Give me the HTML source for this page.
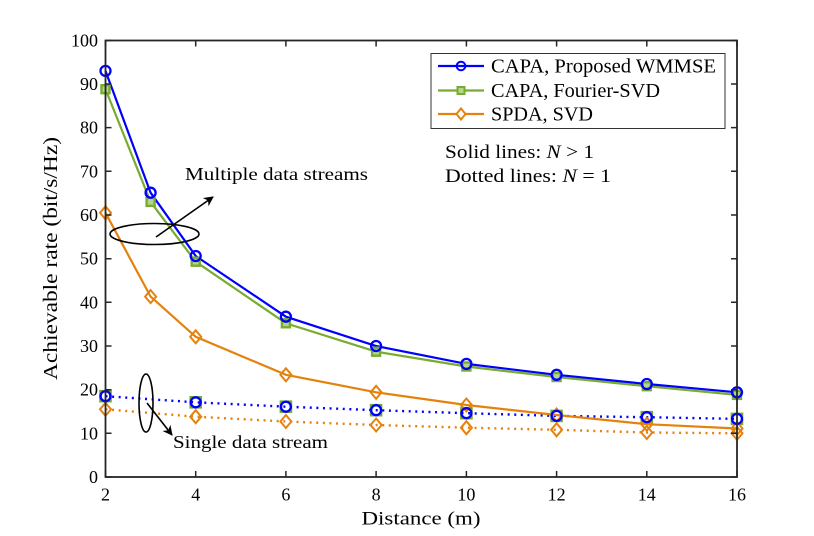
<!DOCTYPE html>
<html><head><meta charset="utf-8"><style>
html,body{margin:0;padding:0;background:#fff;}
svg{display:block;}
text{font-family:"Liberation Serif","DejaVu Serif",serif;fill:#000;}
</style></head><body>
<svg width="814" height="536" viewBox="0 0 814 536" xmlns="http://www.w3.org/2000/svg">
<defs>
<marker id="ah" markerWidth="10" markerHeight="10" refX="9" refY="5" orient="auto" markerUnits="userSpaceOnUse">
<path d="M0,0 L10,5 L0,10 L3,5 Z" fill="#000"/>
</marker>
</defs>
<rect width="814" height="536" fill="#fff"/>

<!-- dotted-series green squares (behind lines) -->
<g fill="#fff" stroke="#77ac30" stroke-width="2.6">
<rect x="100.5" y="391.2" width="10" height="10"/>
<rect x="190.7" y="397.3" width="10" height="10"/>
<rect x="280.9" y="401.7" width="10" height="10"/>
<rect x="371.1" y="405.2" width="10" height="10"/>
<rect x="461.4" y="408.2" width="10" height="10"/>
<rect x="551.6" y="410.9" width="10" height="10"/>
<rect x="641.8" y="412.2" width="10" height="10"/>
<rect x="732" y="413.9" width="10" height="10"/>
</g>

<!-- series: dotted -->
<polyline fill="none" stroke="#e5820e" stroke-width="2.4" stroke-dasharray="2 4.6" points="105.5,409.3 195.7,416.7 285.9,421.5 376.1,425.0 466.4,427.7 556.6,429.8 646.8,432.5 737,433.3"/>
<polyline fill="none" stroke="#0000ff" stroke-width="2.4" stroke-dasharray="2 4.6" points="105.5,396.2 195.7,402.3 285.9,406.7 376.1,410.2 466.4,413.2 556.6,415.9 646.8,417.2 737,418.9"/>

<!-- series: solid -->
<polyline fill="none" stroke="#e5820e" stroke-width="2.2" points="105.5,212.8 150.6,296.6 195.7,336.8 285.9,374.8 376.1,392.3 466.4,405.0 556.6,415.0 646.8,424.2 737,428.5"/>
<polyline fill="none" stroke="#77ac30" stroke-width="2.2" points="105.5,89.2 150.6,201.9 195.7,261.7 285.9,323.3 376.1,351.7 466.4,366.5 556.6,377.0 646.8,386.2 737,394.9"/>
<polyline fill="none" stroke="#0000ff" stroke-width="2.2" points="105.5,70.9 150.6,192.7 195.7,256.0 285.9,316.7 376.1,346.0 466.4,363.9 556.6,374.8 646.8,384.0 737,392.3"/>

<!-- markers orange diamonds -->
<g fill="none" stroke="#e5820e" stroke-width="2">
<path d="M105.5,206.3 l5.5,6.5 l-5.5,6.5 l-5.5,-6.5 z"/>
<path d="M150.6,290.1 l5.5,6.5 l-5.5,6.5 l-5.5,-6.5 z"/>
<path d="M195.7,330.3 l5.5,6.5 l-5.5,6.5 l-5.5,-6.5 z"/>
<path d="M285.9,368.3 l5.5,6.5 l-5.5,6.5 l-5.5,-6.5 z"/>
<path d="M376.1,385.8 l5.5,6.5 l-5.5,6.5 l-5.5,-6.5 z"/>
<path d="M466.4,398.5 l5.5,6.5 l-5.5,6.5 l-5.5,-6.5 z"/>
<path d="M556.6,408.5 l5.5,6.5 l-5.5,6.5 l-5.5,-6.5 z"/>
<path d="M646.8,417.7 l5.5,6.5 l-5.5,6.5 l-5.5,-6.5 z"/>
<path d="M737,422.0 l5.5,6.5 l-5.5,6.5 l-5.5,-6.5 z"/>
<path d="M105.5,402.8 l5.5,6.5 l-5.5,6.5 l-5.5,-6.5 z"/>
<path d="M195.7,410.2 l5.5,6.5 l-5.5,6.5 l-5.5,-6.5 z"/>
<path d="M285.9,415.0 l5.5,6.5 l-5.5,6.5 l-5.5,-6.5 z"/>
<path d="M376.1,418.5 l5.5,6.5 l-5.5,6.5 l-5.5,-6.5 z"/>
<path d="M466.4,421.2 l5.5,6.5 l-5.5,6.5 l-5.5,-6.5 z"/>
<path d="M556.6,423.3 l5.5,6.5 l-5.5,6.5 l-5.5,-6.5 z"/>
<path d="M646.8,426.0 l5.5,6.5 l-5.5,6.5 l-5.5,-6.5 z"/>
<path d="M737,426.8 l5.5,6.5 l-5.5,6.5 l-5.5,-6.5 z"/>
</g>

<!-- markers green squares (solid series) -->
<g fill="#b7d58e" stroke="#77ac30" stroke-width="2.4">
<rect x="101.5" y="85.2" width="8" height="8"/>
<rect x="146.6" y="197.9" width="8" height="8"/>
<rect x="191.7" y="257.7" width="8" height="8"/>
<rect x="281.9" y="319.3" width="8" height="8"/>
<rect x="372.1" y="347.7" width="8" height="8"/>
<rect x="462.4" y="362.5" width="8" height="8"/>
<rect x="552.6" y="373.0" width="8" height="8"/>
<rect x="642.8" y="382.2" width="8" height="8"/>
<rect x="733" y="390.9" width="8" height="8"/>
</g>

<!-- markers blue circles -->
<g fill="none" stroke="#0000ff" stroke-width="2.3">
<circle cx="105.5" cy="70.9" r="5"/>
<circle cx="150.6" cy="192.7" r="5"/>
<circle cx="195.7" cy="256.0" r="5"/>
<circle cx="285.9" cy="316.7" r="5"/>
<circle cx="376.1" cy="346.0" r="5"/>
<circle cx="466.4" cy="363.9" r="5"/>
<circle cx="556.6" cy="374.8" r="5"/>
<circle cx="646.8" cy="384.0" r="5"/>
<circle cx="737" cy="392.3" r="5"/>
<circle cx="105.5" cy="396.2" r="5"/>
<circle cx="195.7" cy="402.3" r="5"/>
<circle cx="285.9" cy="406.7" r="5"/>
<circle cx="376.1" cy="410.2" r="5"/>
<circle cx="466.4" cy="413.2" r="5"/>
<circle cx="556.6" cy="415.9" r="5"/>
<circle cx="646.8" cy="417.2" r="5"/>
<circle cx="737" cy="418.9" r="5"/>
</g>

<!-- axes box -->
<rect x="105.5" y="40.5" width="631.5" height="436.5" fill="none" stroke="#262626" stroke-width="1.8"/>
<g stroke="#262626" stroke-width="1.5">
<path d="M105.5,477v-6M195.7,477v-6M285.9,477v-6M376.1,477v-6M466.4,477v-6M556.6,477v-6M646.8,477v-6M737,477v-6"/>
<path d="M105.5,40.5v6M195.7,40.5v6M285.9,40.5v6M376.1,40.5v6M466.4,40.5v6M556.6,40.5v6M646.8,40.5v6M737,40.5v6"/>
<path d="M105.5,477h6M105.5,433.3h6M105.5,389.7h6M105.5,346h6M105.5,302.3h6M105.5,258.7h6M105.5,215h6M105.5,171.3h6M105.5,127.6h6M105.5,84h6M105.5,40.5h6"/>
<path d="M737,477h-6M737,433.3h-6M737,389.7h-6M737,346h-6M737,302.3h-6M737,258.7h-6M737,215h-6M737,171.3h-6M737,127.6h-6M737,84h-6M737,40.5h-6"/>
</g>

<!-- y tick labels -->
<g font-size="18" text-anchor="end">
<text x="98" y="483">0</text>
<text x="98" y="439.3">10</text>
<text x="98" y="395.7">20</text>
<text x="98" y="352">30</text>
<text x="98" y="308.3">40</text>
<text x="98" y="264.7">50</text>
<text x="98" y="221">60</text>
<text x="98" y="177.3">70</text>
<text x="98" y="133.6">80</text>
<text x="98" y="90">90</text>
<text x="98" y="46.5">100</text>
</g>
<!-- x tick labels -->
<g font-size="18" text-anchor="middle">
<text x="105.5" y="500.5">2</text>
<text x="195.7" y="500.5">4</text>
<text x="285.9" y="500.5">6</text>
<text x="376.1" y="500.5">8</text>
<text x="466.4" y="500.5">10</text>
<text x="556.6" y="500.5">12</text>
<text x="646.8" y="500.5">14</text>
<text x="737" y="500.5">16</text>
</g>

<text x="421" y="524.5" font-size="19" text-anchor="middle" textLength="119" lengthAdjust="spacingAndGlyphs">Distance (m)</text>
<text transform="translate(57,258.5) rotate(-90)" font-size="20" text-anchor="middle" textLength="243" lengthAdjust="spacingAndGlyphs">Achievable rate (bit/s/Hz)</text>

<!-- legend -->
<rect x="431" y="53.5" width="294" height="75" fill="#fff" stroke="#333" stroke-width="1"/>
<line x1="438" y1="66" x2="484" y2="66" stroke="#0000ff" stroke-width="2.2"/>
<circle cx="461" cy="66" r="4.3" fill="none" stroke="#0000ff" stroke-width="2"/>
<line x1="438" y1="90.5" x2="484" y2="90.5" stroke="#77ac30" stroke-width="2.2"/>
<rect x="457.5" y="87" width="7" height="7" fill="#b7d58e" stroke="#77ac30" stroke-width="2"/>
<line x1="438" y1="114" x2="484" y2="114" stroke="#e5820e" stroke-width="2.2"/>
<path d="M461,108.5 l4.5,5.5 l-4.5,5.5 l-4.5,-5.5 z" fill="#fff" stroke="#e5820e" stroke-width="2"/>
<g font-size="20">
<text x="491" y="72.5" textLength="225" lengthAdjust="spacingAndGlyphs">CAPA, Proposed WMMSE</text>
<text x="491" y="97" textLength="169" lengthAdjust="spacingAndGlyphs">CAPA, Fourier-SVD</text>
<text x="491" y="120.5" textLength="102" lengthAdjust="spacingAndGlyphs">SPDA, SVD</text>
</g>

<!-- annotations -->
<g font-size="19">
<text x="445" y="158" textLength="149" lengthAdjust="spacingAndGlyphs">Solid lines: <tspan font-style="italic">N</tspan> &gt; 1</text>
<text x="445" y="182" textLength="166" lengthAdjust="spacingAndGlyphs">Dotted lines: <tspan font-style="italic">N</tspan> = 1</text>
</g>
<g font-size="18">
<text x="185" y="180" textLength="183" lengthAdjust="spacingAndGlyphs">Multiple data streams</text>
<text x="173" y="448" textLength="155" lengthAdjust="spacingAndGlyphs">Single data stream</text>
</g>
<ellipse cx="154.5" cy="234" rx="44.5" ry="10.5" fill="none" stroke="#000" stroke-width="1.6"/>
<line x1="156" y1="237" x2="213" y2="197" stroke="#000" stroke-width="1.6" marker-end="url(#ah)"/>
<ellipse cx="146" cy="403" rx="7" ry="29" fill="none" stroke="#000" stroke-width="1.6"/>
<line x1="147" y1="403" x2="172" y2="435" stroke="#000" stroke-width="1.6" marker-end="url(#ah)"/>
</svg>
</body></html>
